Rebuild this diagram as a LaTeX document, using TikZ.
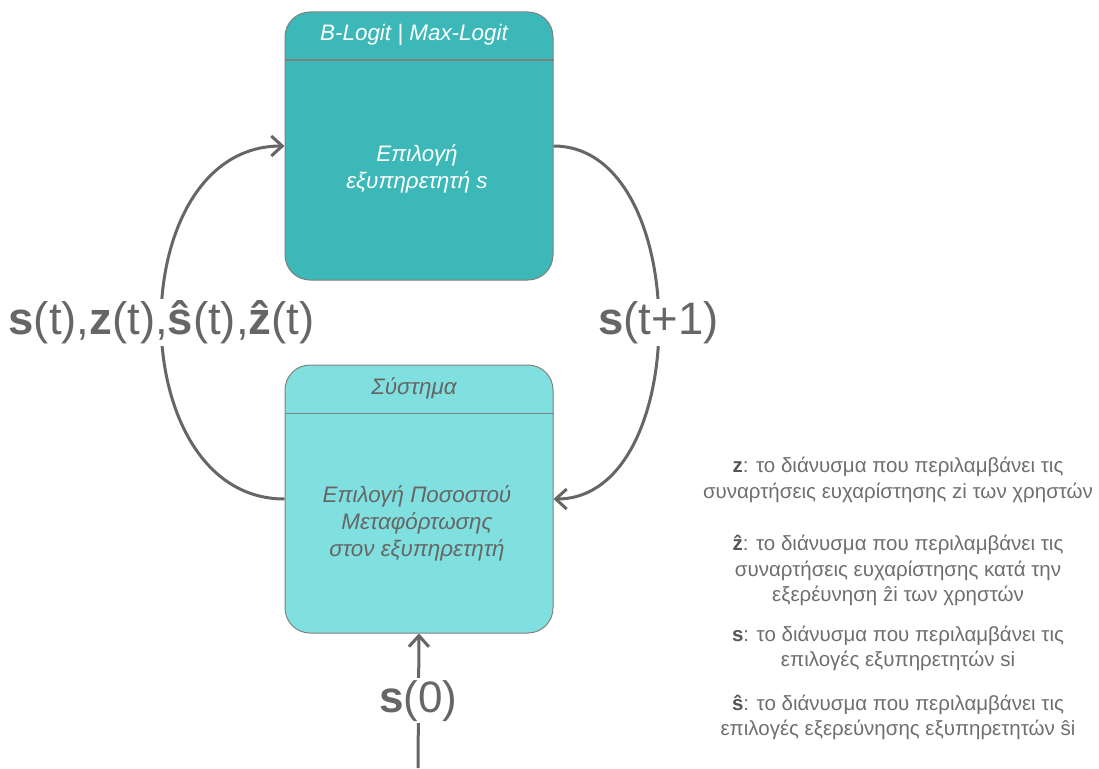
\documentclass[tikz,border=0pt]{standalone}
\usepackage{fontspec}
\setmainfont{Liberation Sans}
\usetikzlibrary{arrows.meta}
\definecolor{topfill}{HTML}{3DB8B8}
\definecolor{botfill}{HTML}{80E0E0}
\definecolor{edgegray}{HTML}{808080}
\definecolor{linegray}{HTML}{666666}
\definecolor{txtgray}{HTML}{6E6E6E}
\definecolor{boldgray}{HTML}{555555}
\tikzset{
  box/.style={draw=edgegray, line width=1pt, rounded corners=25pt, minimum width=268pt, minimum height=268pt, inner sep=0pt},
  conn/.style={draw=linegray, line width=3pt, -{Straight Barb[length=11pt,width=20pt,line width=3pt]}},
  lbl/.style={fill=white, inner sep=2pt, text=linegray, font=\fontsize{45.5}{50}\selectfont},
  boxtxt/.style={align=center, font=\fontsize{22.4}{27}\selectfont\itshape},
  legend/.style={align=center, text=txtgray, font=\fontsize{20.5}{25.3}\selectfont},
}
\newcommand{\bk}[1]{\textcolor{boldgray}{\textbf{#1}}}
\begin{document}
\begin{tikzpicture}[x=1pt,y=-1pt]
\useasboundingbox (0,0) rectangle (1099,768);
% boxes
\node[box, fill=topfill] (sel) at (419,146) {};
\node[box, fill=botfill] (sys) at (419,499) {};
\draw[edgegray, line width=1pt] (sel.west |- 0,60) -- (sel.east |- 0,60);
\draw[edgegray, line width=1pt] (sys.west |- 0,413) -- (sys.east |- 0,413);
\node[boxtxt, text=white] (selhead) at (414,35) {B-Logit | Max-Logit};
\node[boxtxt, text=white] (selbody) at (417,169) {Επιλογή\\εξυπηρετητή s};
\node[boxtxt, text=linegray] (syshead) at (414,388) {Σύστημα};
\node[boxtxt, text=linegray] (sysbody) at (417,523) {Επιλογή Ποσοστού\\Μεταφόρτωσης\\στον εξυπηρετητή};
% connectors
\draw[conn] (sys.west) .. controls +(-164,0) and +(-164,0) .. (sel.west)
  node[midway, lbl] (lblL) {\textbf{s}(t),\textbf{z}(t),\textbf{ŝ}(t),\textbf{ẑ}(t)};
\draw[conn] (sel.east) .. controls +(140,0) and +(140,0) .. (sys.east)
  node[midway, lbl] (lblR) {\textbf{s}(t+1)};
\coordinate (src) at (418,768);
\draw[conn] (src) -- (sys.south) node[midway, lbl, font=\fontsize{44}{50}\selectfont] (lbl0) {\textbf{s}(0)};
% legend
\node[legend] (leg1) at (898,480) {\bk{z}: το διάνυσμα που περιλαμβάνει τις\\συναρτήσεις ευχαρίστησης zi των χρηστών};
\node[legend] (leg2) at (898,570.5) {\bk{ẑ}: το διάνυσμα που περιλαμβάνει τις\\συναρτήσεις ευχαρίστησης κατά την\\εξερέυνηση ẑi των χρηστών};
\node[legend] (leg3) at (898,648.5) {\bk{s}: το διάνυσμα που περιλαμβάνει τις\\επιλογές εξυπηρετητών si};
\node[legend] (leg4) at (898,717.5) {\bk{ŝ}: το διάνυσμα που περιλαμβάνει τις\\επιλογές εξερεύνησης εξυπηρετητών ŝi};
\end{tikzpicture}
\end{document}
